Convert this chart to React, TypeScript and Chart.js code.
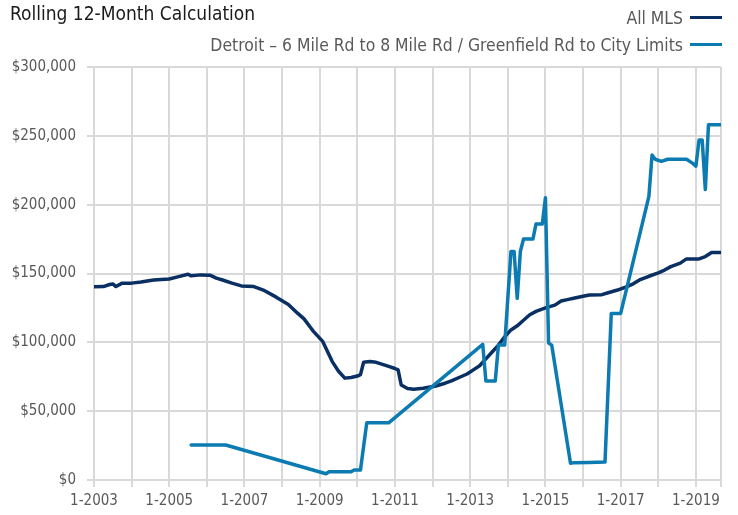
import { useEffect, useRef } from "react";
import { Chart, registerables } from "chart.js";

Chart.register(...registerables);

const FONT = "'Liberation Sans Narrow', 'Arial Narrow', 'DejaVu Sans Condensed', sans-serif";

const chartTitle = "Rolling 12-Month Calculation";
const seriesNames = ["All MLS", "Detroit – 6 Mile Rd to 8 Mile Rd / Greenfield Rd to City Limits"];
const seriesColors = ["#0a2f62", "#0b7bb2"];

const startYear = 2003;
const lastMonth = 200; // Sep 2019, months counted from Jan 2003
const xTickMonths = [0, 12, 24, 36, 48, 60, 72, 84, 96, 108, 120, 132, 144, 156, 168, 180, 192, 200];
const yMax = 300000;
const yStep = 50000;

// All MLS (month index from Jan 2003, value in $)
const allMlsMonths = [
  0, 3, 5, 6, 7, 9, 12, 15, 19, 24, 27, 30, 31, 34, 37, 39, 41, 44, 47, 51,
  54, 58, 62, 65, 67, 69, 70, 73, 76, 78, 80, 82, 84, 85, 86, 88, 90, 92, 94, 96,
  97, 98, 100, 102, 105, 109, 112, 114, 117, 119, 121, 123, 125, 127, 129, 131, 133, 135, 137, 139,
  141, 144, 147, 149, 151, 153, 156, 158, 162, 164, 167, 170, 172, 174, 177, 180, 182, 184, 187, 189,
  193, 195, 197, 200,
];
const allMlsValues = [
  140400, 140500, 142000, 142400, 140500, 143000, 143000, 143800, 145300, 146000, 147700, 149500, 148300, 149000, 148800, 146600, 145300, 143000, 141000, 140500,
  138000, 133000, 127500, 121000, 117000, 111000, 108000, 100500, 86000, 79000, 74000, 74500, 75500, 76500, 85500, 86000, 85500, 84000, 82500, 81000,
  80000, 69000, 66500, 66000, 66600, 68300, 70300, 72000, 75000, 77000, 80000, 83000, 88000, 93000, 98000, 104000, 109000, 112000, 116000, 120000,
  122500, 125000, 127000, 130000, 131000, 132000, 133500, 134400, 134600, 136000, 138000, 140500, 142500, 145300, 148000, 150500, 152500, 155000, 157500, 160600,
  160600, 162300, 165200, 165200,
];

// Detroit – 6 Mile Rd to 8 Mile Rd / Greenfield Rd to City Limits
const detroitMonths = [
  31, 42, 74, 75, 82, 83, 85, 87, 94, 124, 125, 128, 129, 131, 133, 134, 135, 136, 137, 140,
  141, 143, 144, 145, 146, 152, 153, 158, 163, 165, 168, 177, 178, 179, 181, 183, 189, 191, 192, 193,
  194, 195, 196, 200,
];
const detroitValues = [
  25400, 25400, 4500, 6000, 6000, 7300, 7300, 41500, 41500, 98500, 72000, 72000, 98000, 98000, 166000, 166000, 132000, 166000, 175000, 175000,
  186000, 186000, 205000, 99500, 98000, 12100, 12600, 12800, 13000, 121000, 121000, 206000, 236000, 233000, 231500, 233000, 233000, 230000, 228000, 247000,
  247000, 211000, 258000, 258000,
];

const toPoints = (months: number[], values: number[]) => months.map((m, i) => ({ x: m, y: values[i] }));

export default function App() {
  const ref = useRef<HTMLCanvasElement>(null);

  useEffect(() => {
    document.body.style.margin = "0";
    const grid = "#d9d9d9";
    const chart = new Chart(ref.current!, {
      type: "line",
      data: {
        datasets: [
          {
            label: seriesNames[0],
            data: toPoints(allMlsMonths, allMlsValues),
            borderColor: seriesColors[0],
            backgroundColor: seriesColors[0],
            borderWidth: 3.5,
            pointRadius: 0,
            tension: 0,
            borderJoinStyle: "round",
            borderCapStyle: "round",
            order: 1,
          },
          {
            label: seriesNames[1],
            data: toPoints(detroitMonths, detroitValues),
            borderColor: seriesColors[1],
            backgroundColor: seriesColors[1],
            borderWidth: 3.5,
            pointRadius: 0,
            tension: 0,
            borderJoinStyle: "round",
            borderCapStyle: "round",
            order: 0,
          },
        ],
      },
      options: {
        responsive: false,
        animation: false,
        devicePixelRatio: 1,
        layout: { padding: { top: 67, right: 17, bottom: 0, left: 0 } },
        plugins: { legend: { display: false }, tooltip: { enabled: false }, title: { display: false } },
        scales: {
          x: {
            type: "linear",
            min: 0,
            max: lastMonth,
            afterBuildTicks: (scale: any) => {
              scale.ticks = xTickMonths.map((v) => ({ value: v }));
            },
            afterFit: (scale: any) => {
              scale.height = 35;
            },
            ticks: {
              autoSkip: false,
              maxRotation: 0,
              minRotation: 0,
              padding: 5,
              color: "#595959",
              font: { family: FONT, size: 15 },
              callback: (v: any) => (Number(v) % 24 === 0 ? `1-${startYear + Number(v) / 12}` : ""),
            },
            grid: { color: grid, lineWidth: 2, tickLength: 7, drawTicks: true, tickColor: grid },
            border: { display: true, color: grid, width: 2 },
          },
          y: {
            min: 0,
            max: yMax,
            afterFit: (scale: any) => {
              scale.width = 94;
            },
            ticks: {
              stepSize: yStep,
              padding: 11,
              color: "#595959",
              font: { family: FONT, size: 15 },
              callback: (v: any) => "$" + Number(v).toLocaleString("en-US"),
            },
            grid: { color: grid, lineWidth: 2, tickLength: 7, drawTicks: true, tickColor: grid },
            border: { display: true, color: grid, width: 2 },
          },
        },
      },
    });
    return () => chart.destroy();
  }, []);

  return (
    <div style={{ position: "relative", width: 738, height: 515, background: "#fff", fontFamily: FONT }}>
      <canvas ref={ref} width={738} height={515} style={{ position: "absolute", left: 0, top: 0 }} />
      <div style={{ position: "absolute", left: 10, top: 0, fontSize: 19, lineHeight: "26px", color: "#1a1a1a" }}>
        {chartTitle}
      </div>
      <div style={{ position: "absolute", right: 16, top: 4, color: "#595959", fontSize: 17.4 }}>
        {seriesNames.map((name, i) => (
          <div key={name} style={{ display: "flex", alignItems: "center", justifyContent: "flex-end", height: 27 }}>
            <span>{name}</span>
            <span style={{ display: "inline-block", width: 32, height: 3, background: seriesColors[i], marginLeft: 7 }} />
          </div>
        ))}
      </div>
    </div>
  );
}
